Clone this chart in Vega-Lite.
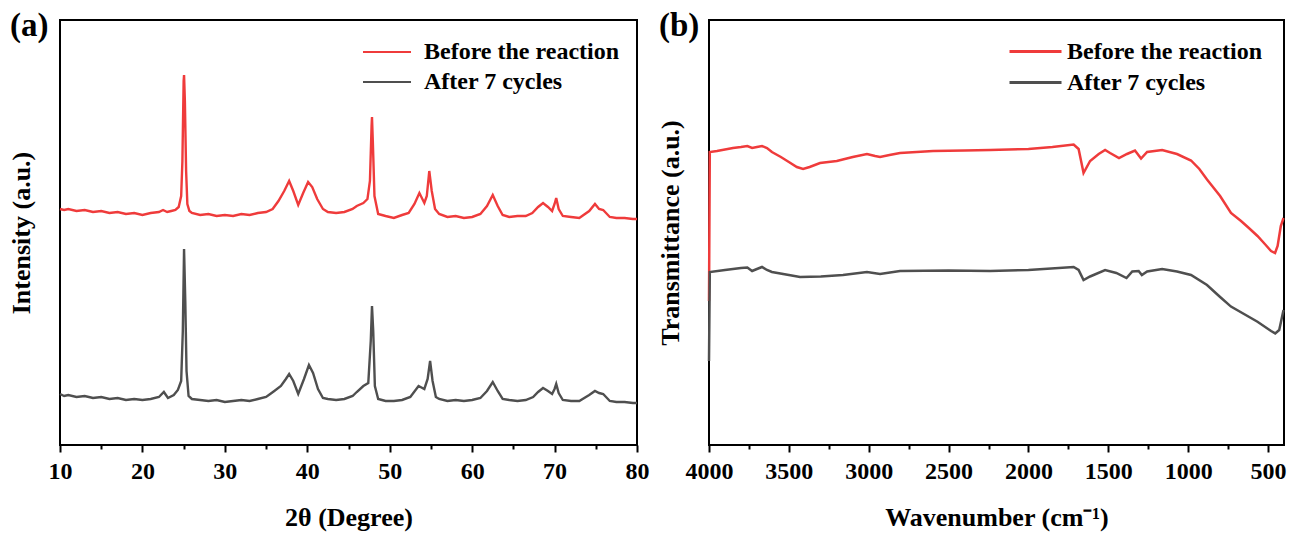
{
"$schema": "https://vega.github.io/schema/vega-lite/v6.json",
"padding": {"left": 7, "top": 9, "right": 4, "bottom": 4},
"spacing": 72,
"bounds": "flush",
"config": {
  "font": "Liberation Serif",
  "view": {"stroke": "black", "strokeWidth": 2},
  "axis": {"grid": false, "labelFont": "Liberation Serif", "labelFontWeight": "bold", "labelFontSize": 24, "labelColor": "black", "titleFont": "Liberation Serif", "titleFontWeight": "bold", "titleFontSize": 26, "titleColor": "black", "domainColor": "black", "domainWidth": 2, "tickColor": "black", "tickWidth": 2},
  "legend": {"labelFont": "Liberation Serif", "labelFontWeight": "bold", "labelFontSize": 24, "labelColor": "black", "labelLimit": 0}
},
"datasets": {
"xrd": [
{"x":10,"v":236,"s":"Before the reaction"},{"x":10.5,"v":235,"s":"Before the reaction"},{"x":11,"v":236,"s":"Before the reaction"},{"x":12,"v":234,"s":"Before the reaction"},{"x":13,"v":235,"s":"Before the reaction"},{"x":14,"v":233,"s":"Before the reaction"},{"x":15,"v":234,"s":"Before the reaction"},{"x":16,"v":232,"s":"Before the reaction"},{"x":17,"v":233,"s":"Before the reaction"},{"x":18,"v":231,"s":"Before the reaction"},{"x":19,"v":232,"s":"Before the reaction"},{"x":20,"v":230,"s":"Before the reaction"},{"x":21,"v":232,"s":"Before the reaction"},{"x":22,"v":233,"s":"Before the reaction"},{"x":22.5,"v":235,"s":"Before the reaction"},{"x":23,"v":233,"s":"Before the reaction"},{"x":23.5,"v":234,"s":"Before the reaction"},{"x":24,"v":235,"s":"Before the reaction"},{"x":24.4,"v":238,"s":"Before the reaction"},{"x":24.7,"v":249,"s":"Before the reaction"},{"x":24.85,"v":284,"s":"Before the reaction"},{"x":25.0,"v":364,"s":"Before the reaction"},{"x":25.05,"v":370,"s":"Before the reaction"},{"x":25.15,"v":344,"s":"Before the reaction"},{"x":25.3,"v":274,"s":"Before the reaction"},{"x":25.45,"v":241,"s":"Before the reaction"},{"x":25.7,"v":234,"s":"Before the reaction"},{"x":26,"v":232,"s":"Before the reaction"},{"x":27,"v":230,"s":"Before the reaction"},{"x":28,"v":231,"s":"Before the reaction"},{"x":29,"v":229,"s":"Before the reaction"},{"x":30,"v":230,"s":"Before the reaction"},{"x":31,"v":229,"s":"Before the reaction"},{"x":32,"v":231,"s":"Before the reaction"},{"x":33,"v":230,"s":"Before the reaction"},{"x":34,"v":232,"s":"Before the reaction"},{"x":35,"v":233,"s":"Before the reaction"},{"x":35.8,"v":236,"s":"Before the reaction"},{"x":36.5,"v":244,"s":"Before the reaction"},{"x":37.2,"v":254,"s":"Before the reaction"},{"x":37.8,"v":264,"s":"Before the reaction"},{"x":38.3,"v":254,"s":"Before the reaction"},{"x":38.9,"v":240,"s":"Before the reaction"},{"x":39.5,"v":252,"s":"Before the reaction"},{"x":40.1,"v":263,"s":"Before the reaction"},{"x":40.6,"v":258,"s":"Before the reaction"},{"x":41.2,"v":246,"s":"Before the reaction"},{"x":41.9,"v":236,"s":"Before the reaction"},{"x":42.5,"v":233,"s":"Before the reaction"},{"x":43.5,"v":232,"s":"Before the reaction"},{"x":44.5,"v":233,"s":"Before the reaction"},{"x":45.5,"v":236,"s":"Before the reaction"},{"x":46,"v":239,"s":"Before the reaction"},{"x":46.8,"v":242,"s":"Before the reaction"},{"x":47.3,"v":246,"s":"Before the reaction"},{"x":47.6,"v":264,"s":"Before the reaction"},{"x":47.8,"v":319,"s":"Before the reaction"},{"x":47.85,"v":328,"s":"Before the reaction"},{"x":47.95,"v":304,"s":"Before the reaction"},{"x":48.15,"v":249,"s":"Before the reaction"},{"x":48.6,"v":231,"s":"Before the reaction"},{"x":49.5,"v":229,"s":"Before the reaction"},{"x":50.5,"v":227,"s":"Before the reaction"},{"x":51.5,"v":230,"s":"Before the reaction"},{"x":52.3,"v":232,"s":"Before the reaction"},{"x":53,"v":241,"s":"Before the reaction"},{"x":53.6,"v":252,"s":"Before the reaction"},{"x":54.2,"v":242,"s":"Before the reaction"},{"x":54.5,"v":249,"s":"Before the reaction"},{"x":54.8,"v":274,"s":"Before the reaction"},{"x":55.1,"v":254,"s":"Before the reaction"},{"x":55.5,"v":236,"s":"Before the reaction"},{"x":56,"v":231,"s":"Before the reaction"},{"x":57,"v":228,"s":"Before the reaction"},{"x":58,"v":229,"s":"Before the reaction"},{"x":59,"v":227,"s":"Before the reaction"},{"x":60,"v":228,"s":"Before the reaction"},{"x":61,"v":231,"s":"Before the reaction"},{"x":61.8,"v":239,"s":"Before the reaction"},{"x":62.5,"v":250,"s":"Before the reaction"},{"x":63.1,"v":239,"s":"Before the reaction"},{"x":63.7,"v":230,"s":"Before the reaction"},{"x":64.5,"v":228,"s":"Before the reaction"},{"x":65.5,"v":229,"s":"Before the reaction"},{"x":66.5,"v":229,"s":"Before the reaction"},{"x":67.3,"v":232,"s":"Before the reaction"},{"x":68,"v":238,"s":"Before the reaction"},{"x":68.6,"v":242,"s":"Before the reaction"},{"x":69.2,"v":238,"s":"Before the reaction"},{"x":69.7,"v":234,"s":"Before the reaction"},{"x":70.0,"v":241,"s":"Before the reaction"},{"x":70.2,"v":247,"s":"Before the reaction"},{"x":70.5,"v":236,"s":"Before the reaction"},{"x":71,"v":229,"s":"Before the reaction"},{"x":72,"v":228,"s":"Before the reaction"},{"x":73,"v":227,"s":"Before the reaction"},{"x":74.2,"v":234,"s":"Before the reaction"},{"x":74.9,"v":241,"s":"Before the reaction"},{"x":75.4,"v":236,"s":"Before the reaction"},{"x":75.9,"v":235,"s":"Before the reaction"},{"x":76.7,"v":228,"s":"Before the reaction"},{"x":77.5,"v":227,"s":"Before the reaction"},{"x":78.5,"v":227,"s":"Before the reaction"},{"x":79.5,"v":226,"s":"Before the reaction"},{"x":80,"v":226,"s":"Before the reaction"},
{"x":10,"v":51,"s":"After 7 cycles"},{"x":10.5,"v":49,"s":"After 7 cycles"},{"x":11,"v":50,"s":"After 7 cycles"},{"x":12,"v":48,"s":"After 7 cycles"},{"x":13,"v":49,"s":"After 7 cycles"},{"x":14,"v":47,"s":"After 7 cycles"},{"x":15,"v":48,"s":"After 7 cycles"},{"x":16,"v":46,"s":"After 7 cycles"},{"x":17,"v":47,"s":"After 7 cycles"},{"x":18,"v":45,"s":"After 7 cycles"},{"x":19,"v":46,"s":"After 7 cycles"},{"x":20,"v":45,"s":"After 7 cycles"},{"x":21,"v":46,"s":"After 7 cycles"},{"x":22,"v":48,"s":"After 7 cycles"},{"x":22.6,"v":53,"s":"After 7 cycles"},{"x":23.1,"v":47,"s":"After 7 cycles"},{"x":23.8,"v":50,"s":"After 7 cycles"},{"x":24.3,"v":55,"s":"After 7 cycles"},{"x":24.7,"v":64,"s":"After 7 cycles"},{"x":24.9,"v":114,"s":"After 7 cycles"},{"x":25.05,"v":196,"s":"After 7 cycles"},{"x":25.2,"v":144,"s":"After 7 cycles"},{"x":25.35,"v":74,"s":"After 7 cycles"},{"x":25.6,"v":49,"s":"After 7 cycles"},{"x":26,"v":46,"s":"After 7 cycles"},{"x":27,"v":45,"s":"After 7 cycles"},{"x":28,"v":44,"s":"After 7 cycles"},{"x":29,"v":45,"s":"After 7 cycles"},{"x":30,"v":43,"s":"After 7 cycles"},{"x":31,"v":44,"s":"After 7 cycles"},{"x":32,"v":45,"s":"After 7 cycles"},{"x":33,"v":44,"s":"After 7 cycles"},{"x":34,"v":46,"s":"After 7 cycles"},{"x":35,"v":48,"s":"After 7 cycles"},{"x":35.5,"v":51,"s":"After 7 cycles"},{"x":36,"v":54,"s":"After 7 cycles"},{"x":36.8,"v":59,"s":"After 7 cycles"},{"x":37.4,"v":66,"s":"After 7 cycles"},{"x":37.8,"v":71,"s":"After 7 cycles"},{"x":38.3,"v":64,"s":"After 7 cycles"},{"x":38.9,"v":51,"s":"After 7 cycles"},{"x":39.6,"v":66,"s":"After 7 cycles"},{"x":40.2,"v":80,"s":"After 7 cycles"},{"x":40.7,"v":72,"s":"After 7 cycles"},{"x":41.3,"v":56,"s":"After 7 cycles"},{"x":41.9,"v":47,"s":"After 7 cycles"},{"x":42.5,"v":46,"s":"After 7 cycles"},{"x":43.5,"v":45,"s":"After 7 cycles"},{"x":44.5,"v":46,"s":"After 7 cycles"},{"x":45.5,"v":49,"s":"After 7 cycles"},{"x":46,"v":53,"s":"After 7 cycles"},{"x":46.8,"v":59,"s":"After 7 cycles"},{"x":47.4,"v":62,"s":"After 7 cycles"},{"x":47.7,"v":104,"s":"After 7 cycles"},{"x":47.85,"v":139,"s":"After 7 cycles"},{"x":48.0,"v":114,"s":"After 7 cycles"},{"x":48.2,"v":59,"s":"After 7 cycles"},{"x":48.6,"v":46,"s":"After 7 cycles"},{"x":49.5,"v":44,"s":"After 7 cycles"},{"x":50.5,"v":44,"s":"After 7 cycles"},{"x":51.5,"v":45,"s":"After 7 cycles"},{"x":52.5,"v":48,"s":"After 7 cycles"},{"x":53.5,"v":59,"s":"After 7 cycles"},{"x":54.2,"v":56,"s":"After 7 cycles"},{"x":54.6,"v":66,"s":"After 7 cycles"},{"x":54.9,"v":84,"s":"After 7 cycles"},{"x":55.2,"v":64,"s":"After 7 cycles"},{"x":55.6,"v":48,"s":"After 7 cycles"},{"x":56,"v":46,"s":"After 7 cycles"},{"x":57,"v":44,"s":"After 7 cycles"},{"x":58,"v":45,"s":"After 7 cycles"},{"x":59,"v":44,"s":"After 7 cycles"},{"x":60,"v":45,"s":"After 7 cycles"},{"x":61,"v":47,"s":"After 7 cycles"},{"x":61.8,"v":54,"s":"After 7 cycles"},{"x":62.5,"v":63,"s":"After 7 cycles"},{"x":63.1,"v":54,"s":"After 7 cycles"},{"x":63.7,"v":46,"s":"After 7 cycles"},{"x":64.5,"v":45,"s":"After 7 cycles"},{"x":65.5,"v":44,"s":"After 7 cycles"},{"x":66.5,"v":45,"s":"After 7 cycles"},{"x":67.4,"v":48,"s":"After 7 cycles"},{"x":68,"v":53,"s":"After 7 cycles"},{"x":68.6,"v":57,"s":"After 7 cycles"},{"x":69.2,"v":54,"s":"After 7 cycles"},{"x":69.7,"v":51,"s":"After 7 cycles"},{"x":70.0,"v":56,"s":"After 7 cycles"},{"x":70.2,"v":61,"s":"After 7 cycles"},{"x":70.5,"v":52,"s":"After 7 cycles"},{"x":71,"v":45,"s":"After 7 cycles"},{"x":72,"v":44,"s":"After 7 cycles"},{"x":73,"v":44,"s":"After 7 cycles"},{"x":74.2,"v":50,"s":"After 7 cycles"},{"x":74.9,"v":54,"s":"After 7 cycles"},{"x":75.4,"v":52,"s":"After 7 cycles"},{"x":75.9,"v":51,"s":"After 7 cycles"},{"x":76.7,"v":44,"s":"After 7 cycles"},{"x":77.5,"v":43,"s":"After 7 cycles"},{"x":78.5,"v":43,"s":"After 7 cycles"},{"x":79.5,"v":42,"s":"After 7 cycles"},{"x":80,"v":42,"s":"After 7 cycles"}
],
"ftir": [
{"x":4000,"v":144,"s":"Before the reaction"},{"x":3995,"v":293,"s":"Before the reaction"},{"x":3950,"v":294,"s":"Before the reaction"},{"x":3900,"v":295.5,"s":"Before the reaction"},{"x":3850,"v":297,"s":"Before the reaction"},{"x":3800,"v":298,"s":"Before the reaction"},{"x":3760,"v":299,"s":"Before the reaction"},{"x":3730,"v":297,"s":"Before the reaction"},{"x":3700,"v":298,"s":"Before the reaction"},{"x":3668,"v":299,"s":"Before the reaction"},{"x":3637,"v":297,"s":"Before the reaction"},{"x":3606,"v":293,"s":"Before the reaction"},{"x":3550,"v":288,"s":"Before the reaction"},{"x":3500,"v":283,"s":"Before the reaction"},{"x":3450,"v":278,"s":"Before the reaction"},{"x":3411,"v":276,"s":"Before the reaction"},{"x":3370,"v":278,"s":"Before the reaction"},{"x":3305,"v":282,"s":"Before the reaction"},{"x":3200,"v":284,"s":"Before the reaction"},{"x":3100,"v":288,"s":"Before the reaction"},{"x":3011,"v":291,"s":"Before the reaction"},{"x":2960,"v":289,"s":"Before the reaction"},{"x":2929,"v":288,"s":"Before the reaction"},{"x":2870,"v":290,"s":"Before the reaction"},{"x":2804,"v":292,"s":"Before the reaction"},{"x":2700,"v":293,"s":"Before the reaction"},{"x":2597,"v":294,"s":"Before the reaction"},{"x":2400,"v":294.5,"s":"Before the reaction"},{"x":2240,"v":295,"s":"Before the reaction"},{"x":2000,"v":296,"s":"Before the reaction"},{"x":1850,"v":298,"s":"Before the reaction"},{"x":1717,"v":300.5,"s":"Before the reaction"},{"x":1686,"v":296,"s":"Before the reaction"},{"x":1655,"v":272,"s":"Before the reaction"},{"x":1614,"v":284,"s":"Before the reaction"},{"x":1560,"v":291,"s":"Before the reaction"},{"x":1520,"v":295,"s":"Before the reaction"},{"x":1489,"v":292,"s":"Before the reaction"},{"x":1433,"v":287,"s":"Before the reaction"},{"x":1383,"v":291,"s":"Before the reaction"},{"x":1333,"v":294.5,"s":"Before the reaction"},{"x":1295,"v":286.5,"s":"Before the reaction"},{"x":1257,"v":293,"s":"Before the reaction"},{"x":1163,"v":295,"s":"Before the reaction"},{"x":1070,"v":291,"s":"Before the reaction"},{"x":982,"v":284.5,"s":"Before the reaction"},{"x":930,"v":276,"s":"Before the reaction"},{"x":882,"v":265.5,"s":"Before the reaction"},{"x":800,"v":249,"s":"Before the reaction"},{"x":732,"v":232,"s":"Before the reaction"},{"x":669,"v":224,"s":"Before the reaction"},{"x":620,"v":217,"s":"Before the reaction"},{"x":566,"v":209,"s":"Before the reaction"},{"x":520,"v":201,"s":"Before the reaction"},{"x":481,"v":194,"s":"Before the reaction"},{"x":456,"v":192,"s":"Before the reaction"},{"x":440,"v":199,"s":"Before the reaction"},{"x":420,"v":219,"s":"Before the reaction"},{"x":403,"v":227,"s":"Before the reaction"},
{"x":4000,"v":84,"s":"After 7 cycles"},{"x":3995,"v":173,"s":"After 7 cycles"},{"x":3900,"v":175,"s":"After 7 cycles"},{"x":3800,"v":177,"s":"After 7 cycles"},{"x":3760,"v":177.5,"s":"After 7 cycles"},{"x":3730,"v":174,"s":"After 7 cycles"},{"x":3700,"v":176,"s":"After 7 cycles"},{"x":3668,"v":178,"s":"After 7 cycles"},{"x":3637,"v":175,"s":"After 7 cycles"},{"x":3606,"v":173,"s":"After 7 cycles"},{"x":3500,"v":170,"s":"After 7 cycles"},{"x":3430,"v":168,"s":"After 7 cycles"},{"x":3300,"v":168.5,"s":"After 7 cycles"},{"x":3161,"v":170,"s":"After 7 cycles"},{"x":3011,"v":173,"s":"After 7 cycles"},{"x":2929,"v":171,"s":"After 7 cycles"},{"x":2804,"v":174,"s":"After 7 cycles"},{"x":2500,"v":174.5,"s":"After 7 cycles"},{"x":2240,"v":174,"s":"After 7 cycles"},{"x":2000,"v":175,"s":"After 7 cycles"},{"x":1717,"v":178,"s":"After 7 cycles"},{"x":1686,"v":175,"s":"After 7 cycles"},{"x":1655,"v":165,"s":"After 7 cycles"},{"x":1614,"v":168.5,"s":"After 7 cycles"},{"x":1520,"v":175,"s":"After 7 cycles"},{"x":1450,"v":172,"s":"After 7 cycles"},{"x":1386,"v":167,"s":"After 7 cycles"},{"x":1350,"v":173.5,"s":"After 7 cycles"},{"x":1310,"v":174,"s":"After 7 cycles"},{"x":1290,"v":170,"s":"After 7 cycles"},{"x":1257,"v":173.5,"s":"After 7 cycles"},{"x":1163,"v":176,"s":"After 7 cycles"},{"x":1070,"v":173.5,"s":"After 7 cycles"},{"x":982,"v":170,"s":"After 7 cycles"},{"x":882,"v":160,"s":"After 7 cycles"},{"x":800,"v":148,"s":"After 7 cycles"},{"x":732,"v":138.4,"s":"After 7 cycles"},{"x":566,"v":123.3,"s":"After 7 cycles"},{"x":481,"v":114,"s":"After 7 cycles"},{"x":455,"v":111.6,"s":"After 7 cycles"},{"x":430,"v":115,"s":"After 7 cycles"},{"x":403,"v":135,"s":"After 7 cycles"}
]
},
"hconcat": [
{
  "width": 577, "height": 425,
  "title": {"text": "(a)", "anchor": "start", "frame": "group", "offset": -23, "dx": -50, "fontSize": 33, "font": "Liberation Serif", "fontWeight": "bold", "color": "black"},
  "data": {"name": "xrd"},
  "mark": {"type": "line", "strokeWidth": 2.4},
  "encoding": {
    "x": {"field": "x", "type": "quantitative", "scale": {"domain": [10, 80], "nice": false, "zero": false},
      "axis": {"title": "2θ (Degree)", "values": [10,15,20,25,30,35,40,45,50,55,60,65,70,75,80], "labelExpr": "datum.value % 10 === 0 ? datum.label : ''", "labelFlush": false, "tickSize": {"condition": {"test": "datum.value % 10 === 0", "value": 7}, "value": 4}, "domain": false, "labelPadding": 7, "titlePadding": 21}},
    "y": {"field": "v", "type": "quantitative", "scale": {"domain": [0, 425], "nice": false, "zero": false},
      "axis": {"title": "Intensity (a.u.)", "labels": false, "ticks": false, "domain": false, "titlePadding": 26}},
    "color": {"field": "s", "type": "nominal", "sort": ["Before the reaction", "After 7 cycles"],
      "scale": {"domain": ["Before the reaction", "After 7 cycles"], "range": ["#ef3b3b", "#4f4f4f"]},
      "legend": {"title": null, "orient": "none", "legendX": 314, "legendY": 19, "symbolType": "M-2,0H2", "symbolSize": 576, "symbolStrokeWidth": 2, "labelOffset": 24, "rowPadding": 5}}
  }
},
{
  "width": 575, "height": 425,
  "title": {"text": "(b)", "anchor": "start", "frame": "group", "offset": -23, "dx": -50, "fontSize": 33, "font": "Liberation Serif", "fontWeight": "bold", "color": "black"},
  "data": {"name": "ftir"},
  "mark": {"type": "line", "strokeWidth": 2.5},
  "encoding": {
    "x": {"field": "x", "type": "quantitative", "scale": {"domain": [4000, 400], "nice": false, "zero": false},
      "axis": {"title": "Wavenumber (cm⁻¹)", "values": [4000,3750,3500,3250,3000,2750,2500,2250,2000,1750,1500,1250,1000,750,500], "labelExpr": "datum.value % 500 === 0 ? datum.label : ''", "format": "d", "labelFlush": false, "tickSize": {"condition": {"test": "datum.value % 500 === 0", "value": 7}, "value": 4}, "domain": false, "labelPadding": 7, "titlePadding": 21}},
    "y": {"field": "v", "type": "quantitative", "scale": {"domain": [0, 425], "nice": false, "zero": false},
      "axis": {"title": "Transmittance (a.u.)", "labels": false, "ticks": false, "domain": false, "titlePadding": 26}},
    "color": {"field": "s", "type": "nominal", "sort": ["Before the reaction", "After 7 cycles"],
      "scale": {"domain": ["Before the reaction", "After 7 cycles"], "range": ["#ef3b3b", "#4f4f4f"]},
      "legend": {"title": null, "orient": "none", "legendX": 312, "legendY": 17, "symbolType": "M-2,0H2", "symbolSize": 676, "symbolStrokeWidth": 3, "labelOffset": 17, "rowPadding": 4}}
  }
}
],
"resolve": {"legend": {"color": "independent"}, "scale": {"color": "independent"}}
}
